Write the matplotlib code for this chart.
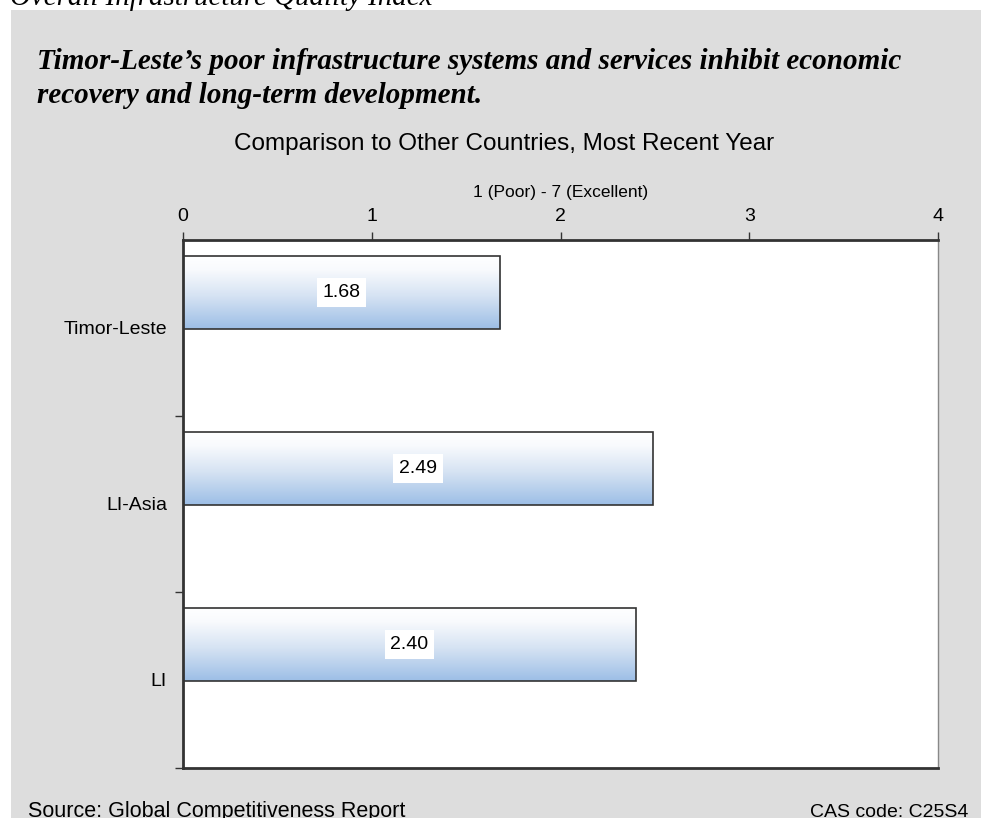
import matplotlib
matplotlib.use("Agg")
import matplotlib.pyplot as plt
import numpy as np
from matplotlib.patches import Rectangle
from matplotlib.colors import LinearSegmentedColormap

# データ
categories = ["Timor-Leste", "LI-Asia", "LI"]
values = [1.68, 2.49, 2.40]
x_ticks = [0, 1, 2, 3, 4]

plt.rcParams["font.family"] = ["Liberation Sans", "DejaVu Sans"]

fig = plt.figure(figsize=(9.81, 8.18), dpi=100)
fig.patch.set_facecolor("white")

# 灰色の背景パネル
fig.patches.append(Rectangle((11 / 981, 0), 1 - 11 / 981, 808 / 818,
                             transform=fig.transFigure, facecolor="#dddddd",
                             edgecolor="none", zorder=-5))

# 見出し
fig.text(10 / 981, 1 - 5 / 818, "Overall Infrastructure Quality Index",
         family="Liberation Serif", style="italic", fontsize=20.8,
         va="baseline", ha="left")
fig.text(37 / 981, 1 - 103 / 818,
         "Timor-Leste\u2019s poor infrastructure systems and services inhibit economic\n"
         "recovery and long-term development.",
         family="Liberation Serif", style="italic", weight="bold", fontsize=21,
         va="baseline", ha="left", linespacing=1.32)

fig.text(504 / 981, 1 - 144 / 818, "Comparison to Other Countries, Most Recent Year",
         fontsize=17.5, ha="center", va="center")
fig.text(28 / 981, 1 - 817 / 818, "Source: Global Competitiveness Report",
         fontsize=15.5, ha="left", va="baseline")
fig.text(968 / 981, 1 - 817 / 818, "CAS code: C25S4",
         fontsize=14, ha="right", va="baseline")

ax = fig.add_axes([183 / 981, 50 / 818, 755 / 981, 528 / 818])
ax.set_facecolor("white")

# グラデーション（上：白 → 下：水色）
cmap = LinearSegmentedColormap.from_list(
    "barfill", [(0, "#ffffff"), (0.2, "#f8fafd"), (0.55, "#d6e3f3"), (1, "#9cbee6")])
grad = np.linspace(0, 1, 256).reshape(-1, 1)

bar_h = 0.415
offset = 0.298
for i, (cat, v) in enumerate(zip(categories, values)):
    yc = i + offset
    y0, y1 = yc - bar_h / 2, yc + bar_h / 2
    rect = Rectangle((0, y0), v, bar_h, facecolor="none",
                     edgecolor="#333333", linewidth=1.2, zorder=3)
    ax.add_patch(rect)
    im = ax.imshow(grad, cmap=cmap, aspect="auto", extent=(0, v, y1, y0),
                   zorder=2, interpolation="bicubic")
    im.set_clip_path(rect)
    ax.text(v / 2, yc, f"{v:.2f}", ha="center", va="center", fontsize=14,
            zorder=4,
            bbox=dict(boxstyle="square,pad=0.3", facecolor="white", edgecolor="none"))

ax.set_xlim(0, 4)
ax.set_ylim(3, 0)

# 軸
ax.xaxis.tick_top()
ax.set_xticks(x_ticks)
ax.set_xticklabels([str(t) for t in x_ticks])
ax.set_xlabel("1 (Poor) - 7 (Excellent)", fontsize=12.5, labelpad=8)
ax.xaxis.set_label_position("top")
ax.tick_params(axis="x", direction="out", length=6, width=1, labelsize=14, pad=5,
               color="#333333")

ax.set_yticks([0.5, 1.5, 2.5])
ax.set_yticklabels(categories)
ax.set_yticks([1, 2, 3], minor=True)
ax.tick_params(axis="y", which="major", length=0, labelsize=14, pad=11.5)
ax.tick_params(axis="y", which="minor", direction="out", length=6, width=1,
               color="#333333")

for side in ["left", "top", "bottom"]:
    ax.spines[side].set_color("#333333")
    ax.spines[side].set_linewidth(2)
ax.spines["right"].set_color("#888888")
ax.spines["right"].set_linewidth(1)

plt.savefig("out.png", dpi=100, facecolor=fig.get_facecolor())
plt.close()
